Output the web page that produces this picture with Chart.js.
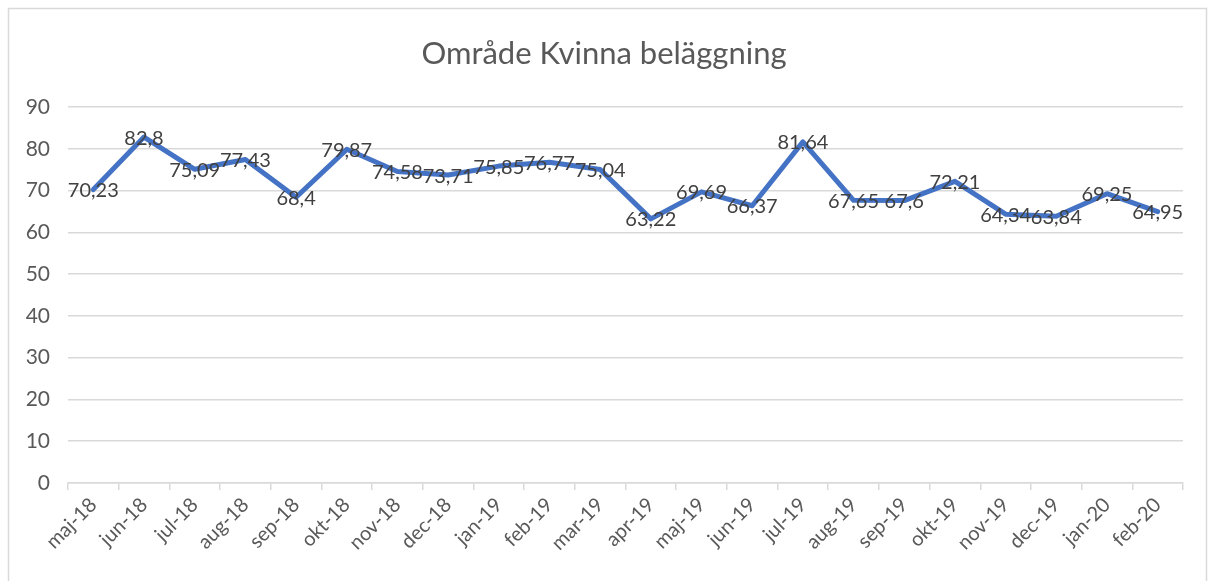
<!DOCTYPE html>
<html>
<head>
<meta charset="utf-8">
<script src="https://cdn.jsdelivr.net/npm/chart.js@4"></script>
<style>
html,body{margin:0;padding:0;background:#fff;}
#wrap{width:1208px;height:581px;position:relative;}
</style>
</head>
<body>
<div id="wrap"><canvas id="c" width="1208" height="581"></canvas></div>
<script>
const categories = ["maj-18","jun-18","jul-18","aug-18","sep-18","okt-18","nov-18","dec-18","jan-19","feb-19","mar-19","apr-19","maj-19","jun-19","jul-19","aug-19","sep-19","okt-19","nov-19","dec-19","jan-20","feb-20"];
const values = [70.23,82.8,75.09,77.43,68.4,79.87,74.58,73.71,75.85,76.77,75.04,63.22,69.69,66.37,81.64,67.65,67.6,72.21,64.34,63.84,69.25,64.95];
const yTicks = [0,10,20,30,40,50,60,70,80,90];
const title = "Område Kvinna beläggning";

const FONT = "Lato, 'Open Sans', sans-serif";

const borderPlugin = {
  id: 'outerBorder',
  beforeDraw(chart) {
    const ctx = chart.ctx;
    ctx.save();
    ctx.fillStyle = '#ffffff';
    ctx.fillRect(0, 0, chart.width, chart.height);
    ctx.strokeStyle = '#d9d9d9';
    ctx.lineWidth = 1.5;
    ctx.strokeRect(8.5, 8.5, chart.width - 10, chart.height + 20);
    ctx.restore();
  }
};

const labelPlugin = {
  id: 'valueLabels',
  afterDatasetsDraw(chart) {
    const ctx = chart.ctx;
    const meta = chart.getDatasetMeta(0);
    ctx.save();
    ctx.font = "20px " + FONT;
    ctx.fillStyle = '#404040';
    ctx.textAlign = 'center';
    ctx.textBaseline = 'middle';
    meta.data.forEach((pt, i) => {
      const txt = String(values[i]).replace('.', ',');
      ctx.fillText(txt, pt.x, pt.y + 1);
    });
    ctx.restore();
  }
};

new Chart(document.getElementById('c'), {
  type: 'line',
  data: {
    labels: categories,
    datasets: [{
      data: values,
      borderColor: '#4472C4',
      borderWidth: 5,
      pointRadius: 0,
      tension: 0,
      borderCapStyle: 'round',
      borderJoinStyle: 'round'
    }]
  },
  options: {
    responsive: false,
    animation: false,
    devicePixelRatio: 1,
    layout: { padding: { left: 0, right: 0, top: 0, bottom: 0 } },
    plugins: {
      legend: { display: false },
      tooltip: { enabled: false },
      title: {
        display: true,
        text: title,
        color: '#595959',
        font: { family: FONT, size: 31, weight: 'normal' },
        padding: { top: 35, bottom: 34.8 }
      }
    },
    scales: {
      x: {
        type: 'category',
        offset: true,
        grid: {
          display: true,
          offset: true,
          drawOnChartArea: false,
          drawTicks: true,
          tickLength: 7,
          color: '#d9d9d9',
          lineWidth: 1.5
        },
        border: { display: true, color: '#d9d9d9', width: 1.5 },
        ticks: {
          color: '#595959',
          font: { family: FONT, size: 20 },
          minRotation: 45,
          maxRotation: 45,
          autoSkip: false,
          padding: 3
        },
        afterFit(scale) { scale.height = 98; }
      },
      y: {
        min: 0,
        max: 90,
        afterBuildTicks(scale) { scale.ticks = yTicks.map(v => ({ value: v })); },
        grid: { color: '#d9d9d9', lineWidth: 1.5, drawTicks: false },
        border: { display: false },
        ticks: {
          color: '#595959',
          font: { family: FONT, size: 21 },
          padding: 18
        },
        afterFit(scale) { scale.width = 68; }
      },
      yRight: {
        type: 'linear',
        position: 'right',
        min: 0,
        max: 90,
        grid: { display: false, drawTicks: false },
        border: { display: false },
        ticks: { display: false },
        afterFit(scale) { scale.width = 25; }
      }
    }
  },
  plugins: [borderPlugin, labelPlugin]
});
</script>
</body>
</html>
